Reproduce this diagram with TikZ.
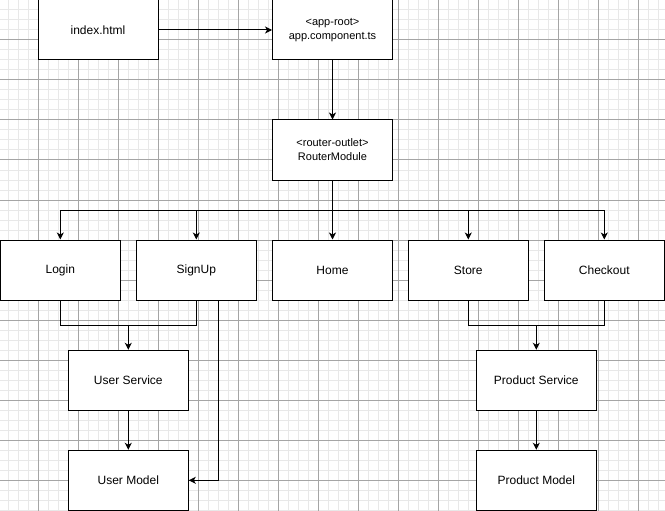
\documentclass[tikz,border=0pt]{standalone}
\usepackage{fontspec}
\setmainfont{Liberation Sans}
\usetikzlibrary{arrows.meta}
\definecolor{gridminor}{RGB}{232,232,232}
\definecolor{gridmajor}{RGB}{165,165,165}
\tikzset{
  box/.style={draw=black, line width=1pt, fill=white, minimum width=120pt,
    minimum height=60pt, inner sep=0pt, align=center,
    font=\fontsize{12}{14}\selectfont},
  tagbox/.style={box, font=\fontsize{11}{14}\selectfont},
  link/.style={draw=black, line width=1pt},
  arr/.style={link, -{Stealth[length=7pt,width=7pt,inset=2pt]}},
}
\begin{document}
\begin{tikzpicture}[x=1pt,y=-1pt]
  % page and background grid
  \fill[white] (0,0) rectangle (665,511);
  \useasboundingbox (0,0) rectangle (665,511);
  \foreach \gx in {8.5,18.5,...,658.5}
    \draw[gridminor, line width=1pt] (\gx,0) -- (\gx,511);
  \foreach \gy in {10,20,...,510}
    \draw[gridminor, line width=1pt] (0,\gy) -- (665,\gy);
  \foreach \gx in {38.5,78.5,...,638.5}
    \draw[gridmajor, line width=1pt] (\gx,0) -- (\gx,511);
  \foreach \gy in {40,80,...,480}
    \draw[gridmajor, line width=1pt] (0,\gy) -- (665,\gy);

  % components
  \node[box] (index) at (98,30) {index.html};
  \node[tagbox] (app) at (332.5,30) {<app-root>\\app.component.ts};
  \node[tagbox] (router) at (332.5,150) {<router-outlet>\\RouterModule};
  \node[box] (login) at (60.3,270) {Login};
  \node[box] (signup) at (196.3,270) {SignUp};
  \node[box] (home) at (332.5,270) {Home};
  \node[box] (store) at (468.3,270) {Store};
  \node[box] (checkout) at (604.3,270) {Checkout};
  \node[box] (userservice) at (128.3,380.3) {User Service};
  \node[box] (usermodel) at (128.3,480.3) {User Model};
  \node[box] (productservice) at (536.3,380.3) {Product Service};
  \node[box] (productmodel) at (536.3,480.3) {Product Model};

  % junction points
  \coordinate (bus) at (332.5,210.3);
  \coordinate (ujoin) at (128.3,325.3);
  \coordinate (pjoin) at (536.3,325.3);

  % connectors
  \draw[arr] (index) -- (app);
  \draw[arr] (app) -- (router);
  \draw[arr] (router) -- (home);
  \draw[arr] (bus) -| (login);
  \draw[arr] (bus) -| (signup);
  \draw[arr] (bus) -| (store);
  \draw[arr] (bus) -| (checkout);

  \draw[link] (login) |- (ujoin);
  \draw[link] (signup) |- (ujoin);
  \draw[arr] (ujoin) -- (userservice);
  \draw[arr] (userservice) -- (usermodel);
  \draw[arr] ([xshift=22pt]signup.south) |- (usermodel);

  \draw[link] (store) |- (pjoin);
  \draw[link] (checkout) |- (pjoin);
  \draw[arr] (pjoin) -- (productservice);
  \draw[arr] (productservice) -- (productmodel);
\end{tikzpicture}
\end{document}
